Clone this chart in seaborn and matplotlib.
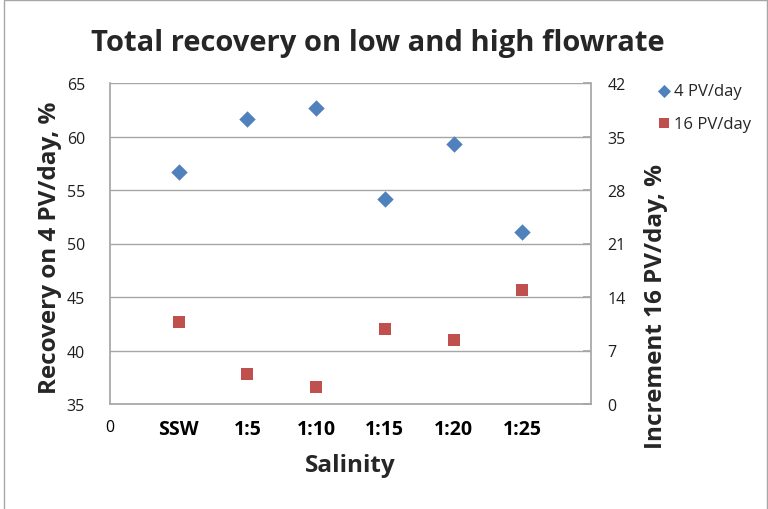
import matplotlib
matplotlib.use("Agg")
import matplotlib.pyplot as plt
import seaborn as sns
import pandas as pd
from matplotlib.patches import Rectangle

categories = ["SSW", "1:5", "1:10", "1:15", "1:20", "1:25"]
recovery_4pv = [56.7, 61.6, 62.7, 54.2, 59.3, 51.1]
increment_16pv = [10.7, 3.9, 2.2, 9.8, 8.4, 14.9]
left_ticks = [35, 40, 45, 50, 55, 60, 65]
right_ticks = [0, 7, 14, 21, 28, 35, 42]
x_tick_labels = ["0"] + categories

sns.set_theme(style="white")
plt.rcParams["font.family"] = ["Open Sans", "DejaVu Sans"]

df = pd.DataFrame({
    "pos": range(1, len(categories) + 1),
    "Salinity": categories,
    "r4": recovery_4pv,
    "i16": increment_16pv,
})

fig = plt.figure(figsize=(7.68, 5.10), dpi=100)
fig.patch.set_facecolor("white")
fig.add_artist(Rectangle((4 / 768, -10 / 510), 763 / 768, (509 + 10) / 510, transform=fig.transFigure,
                         fill=False, edgecolor="#a6a6a6", linewidth=1.0))

ax = fig.add_axes([110 / 768, 1 - 405 / 510, (591 - 110) / 768, (405 - 84) / 510])
ax2 = ax.twinx()

blue = "#4F81BD"
red = "#C0504D"

sns.scatterplot(data=df, x="pos", y="r4", ax=ax, marker="D", s=70, color=blue,
                edgecolor=blue, linewidth=0, label="4 PV/day", legend=False)
sns.scatterplot(data=df, x="pos", y="i16", ax=ax2, marker="s", s=70, color=red,
                edgecolor=red, linewidth=0, label="16 PV/day", legend=False)

ax.set_xlim(0, 7)
ax.set_ylim(left_ticks[0], left_ticks[-1])
ax2.set_ylim(right_ticks[0], right_ticks[-1])
ax.set_yticks(left_ticks)
ax2.set_yticks(right_ticks)
ax.set_xticks(range(len(x_tick_labels)))
ax.set_xticklabels(x_tick_labels)
for i, t in enumerate(ax.get_xticklabels()):
    if i > 0:
        t.set_fontweight("bold")
        t.set_fontsize(14)
    else:
        t.set_fontsize(11.5)
    t.set_color("black")

ax.grid(axis="y", color="#a6a6a6", linewidth=1.0)
ax.set_axisbelow(True)
for a in (ax, ax2):
    for sp in a.spines.values():
        sp.set_visible(False)
ax.spines["left"].set_visible(True)
ax.spines["left"].set_color("#a6a6a6")
ax.spines["bottom"].set_visible(True)
ax.spines["bottom"].set_color("#a6a6a6")
ax2.spines["right"].set_visible(True)
ax2.spines["right"].set_color("#a6a6a6")

ax.tick_params(axis="y", length=0, labelsize=11.5, pad=18, labelcolor="#1f1f1f")
ax.tick_params(axis="x", length=0, pad=11)
ax2.tick_params(axis="y", length=6, direction="in", color="#a6a6a6", labelsize=11.5, pad=12,
                labelcolor="#1f1f1f")

ax.set_xlabel("")
ax.set_ylabel("")
ax2.set_ylabel("")

label_kw = dict(fontsize=17.5, fontweight="bold", ha="center", va="center")
fig.text(350 / 768, 1 - 466 / 510, "Salinity", **label_kw)
fig.text(50 / 768, 1 - 248 / 510, "Recovery on 4 PV/day, %", rotation=90, **label_kw)
fig.text(656 / 768, 1 - 307 / 510, "Increment 16 PV/day, %", rotation=90, **label_kw)

fig.text(378 / 768, 1 - 43 / 510, "Total recovery on low and high flowrate",
         ha="center", va="center", fontsize=21, fontweight="bold")

h1, l1 = ax.get_legend_handles_labels()
h2, l2 = ax2.get_legend_handles_labels()
fig.legend(h1 + h2, l1 + l2, loc="upper left", bbox_to_anchor=(641 / 768, 1 - 69 / 510),
           frameon=False, fontsize=12, handletextpad=0.1, labelspacing=1.0,
           handlelength=1.0, markerscale=0.8)

fig.savefig("out.png", dpi=100)
